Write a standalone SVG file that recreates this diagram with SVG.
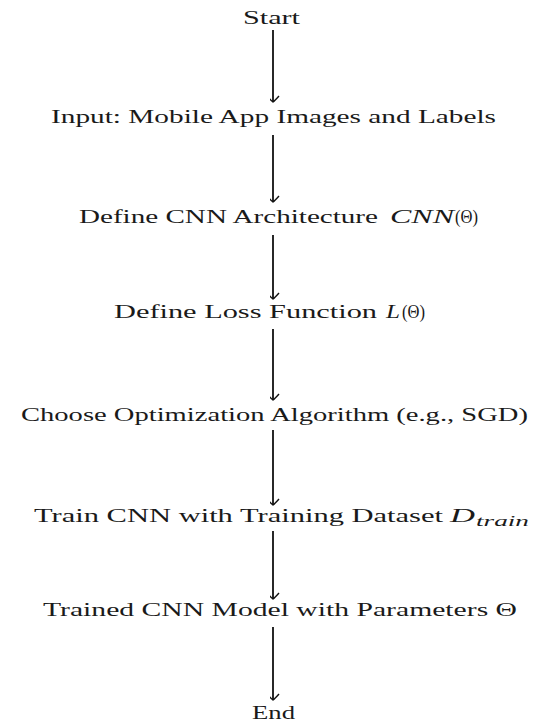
<svg xmlns="http://www.w3.org/2000/svg" width="536" height="722" viewBox="0 0 536 722">
<style>
  text { font-family: "Liberation Serif", "DejaVu Serif", "Noto Serif", serif; font-size: 19px; fill: #1a1a1a; }
  .it { font-style: italic; }
  .sub { font-style: italic; font-size: 14px; }
  .edge { stroke: #111111; stroke-width: 1.8; fill: none; }
</style>
<defs>
  <marker id="arr" viewBox="-8 -7 16 10" markerWidth="16" markerHeight="10" refX="0" refY="0" markerUnits="userSpaceOnUse" orient="auto">
    <path d="M -6 -6 Q -2 -1.5 0 0 Q 2 -1.5 6 -6" fill="none" stroke="#111111" stroke-width="1.4" transform="rotate(-90)"/>
  </marker>
</defs>
<rect width="536" height="722" fill="#ffffff"/>
<g id="connectors">
  <line class="edge" x1="273" y1="30" x2="273" y2="102" marker-end="url(#arr)"/>
  <line class="edge" x1="273" y1="135" x2="273" y2="202" marker-end="url(#arr)"/>
  <line class="edge" x1="273" y1="235" x2="273" y2="299" marker-end="url(#arr)"/>
  <line class="edge" x1="273" y1="329" x2="273" y2="400" marker-end="url(#arr)"/>
  <line class="edge" x1="273" y1="430" x2="273" y2="505" marker-end="url(#arr)"/>
  <line class="edge" x1="273" y1="531" x2="273" y2="599" marker-end="url(#arr)"/>
  <line class="edge" x1="273" y1="627" x2="273" y2="700" marker-end="url(#arr)"/>
</g>
<g id="start"><text x="243" y="24" textLength="57" lengthAdjust="spacingAndGlyphs">Start</text></g>
<g id="input"><text x="51" y="123" textLength="445" lengthAdjust="spacingAndGlyphs">Input: Mobile App Images and Labels</text></g>
<g id="architecture">
  <text x="79" y="223" textLength="299" lengthAdjust="spacingAndGlyphs">Define CNN Architecture</text>
  <text class="it" x="390" y="223" textLength="64" lengthAdjust="spacingAndGlyphs">CNN</text>
  <text x="455" y="223" textLength="23" lengthAdjust="spacingAndGlyphs">(Θ)</text>
</g>
<g id="loss">
  <text x="114" y="318" textLength="263" lengthAdjust="spacingAndGlyphs">Define Loss Function</text>
  <text class="it" x="386" y="318" textLength="14" lengthAdjust="spacingAndGlyphs">L</text>
  <text x="402" y="318" textLength="23" lengthAdjust="spacingAndGlyphs">(Θ)</text>
</g>
<g id="optimizer"><text x="21" y="421" textLength="507" lengthAdjust="spacingAndGlyphs">Choose Optimization Algorithm (e.g., SGD)</text></g>
<g id="train">
  <text x="34" y="522" textLength="409" lengthAdjust="spacingAndGlyphs">Train CNN with Training Dataset</text>
  <text class="it" x="450" y="522" textLength="25" lengthAdjust="spacingAndGlyphs">D</text>
  <text class="sub" x="476" y="526" textLength="53" lengthAdjust="spacingAndGlyphs">train</text>
</g>
<g id="model"><text x="43" y="616" textLength="474" lengthAdjust="spacingAndGlyphs">Trained CNN Model with Parameters Θ</text></g>
<g id="end"><text x="252" y="719" textLength="43" lengthAdjust="spacingAndGlyphs">End</text></g>
</svg>
